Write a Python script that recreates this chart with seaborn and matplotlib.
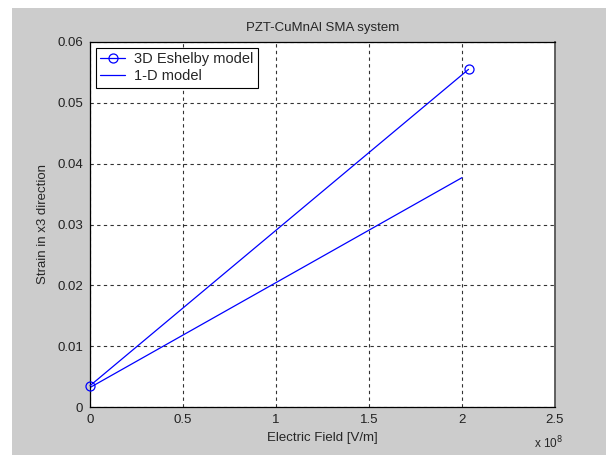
import matplotlib
matplotlib.use('Agg')

import pandas as pd
import numpy as np
import seaborn as sns
import matplotlib.pyplot as plt
from matplotlib.patches import Rectangle

# values
field_3d = [0.0, 2.035e8]
strain_3d = [0.0035, 0.0555]
field_1d = [0.0, 2.0e8]
strain_1d = [0.0032, 0.0377]

x_ticks = [0, 0.5e8, 1e8, 1.5e8, 2e8, 2.5e8]
x_tick_labels = ['0', '0.5', '1', '1.5', '2', '2.5']
y_ticks = [0, 0.01, 0.02, 0.03, 0.04, 0.05, 0.06]
y_tick_labels = ['0', '0.01', '0.02', '0.03', '0.04', '0.05', '0.06']

df = pd.concat([
    pd.DataFrame({'field': field_3d, 'strain': strain_3d, 'model': '3D Eshelby model'}),
    pd.DataFrame({'field': field_1d, 'strain': strain_1d, 'model': '1-D model'}),
])

sns.set_style('white')
plt.rcParams['font.family'] = ['Liberation Sans', 'DejaVu Sans']

fig = plt.figure(figsize=(6.06, 4.55), dpi=100, facecolor='white')
fig.patches.append(Rectangle((12 / 606, 0), 1, 1 - 8 / 455, transform=fig.transFigure,
                             facecolor='#cccccc', edgecolor='none', zorder=-10))
ax = fig.add_axes([90 / 606, 48 / 455, 465 / 606, 365 / 455])
ax.set_facecolor('white')

d3 = df[df['model'] == '3D Eshelby model']
d1 = df[df['model'] == '1-D model']
sns.lineplot(data=d3, x='field', y='strain', ax=ax, color='blue', lw=0.9,
             marker='o', markersize=6.5, markerfacecolor='none', markeredgecolor='blue',
             markeredgewidth=0.9, label='3D Eshelby model', clip_on=False, zorder=5)
sns.lineplot(data=d1, x='field', y='strain', ax=ax, color='blue', lw=0.9, label='1-D model')

ax.set_xlim(0, 2.5e8)
ax.set_ylim(0, 0.06)
ax.set_xticks(x_ticks)
ax.set_xticklabels(x_tick_labels)
ax.set_yticks(y_ticks)
ax.set_yticklabels(y_tick_labels)
ax.tick_params(direction='in', length=4, width=0.8, labelsize=9.5, colors='black',
               labelcolor='#222222', pad=5)
ax.grid(True, color='black', linestyle=(0, (3, 3)), linewidth=0.8, alpha=0.8)
for s in ax.spines.values():
    s.set_color('black')
    s.set_linewidth(0.9)
ax.spines['right'].set_color('#555555')
ax.spines['right'].set_linewidth(1.3)

ax.set_title('PZT-CuMnAl SMA system', fontsize=9.5, pad=8)
ax.set_xlabel('Electric Field [V/m]', fontsize=9.5, labelpad=4)
ax.set_ylabel('Strain in x3 direction', fontsize=9.5, labelpad=6)
fig.text(548 / 606, 1 - 443 / 455, r'x 10$^8$', fontsize=8.5, ha='center', va='center')

leg = ax.legend(loc='upper left', fontsize=10.5, frameon=True, fancybox=False,
                edgecolor='black', framealpha=1, borderaxespad=0.4, handlelength=1.7,
                handletextpad=0.6, borderpad=0.3, labelspacing=0.2)
leg.get_frame().set_linewidth(0.8)

fig.savefig('out.png', dpi=100, facecolor=fig.get_facecolor())
